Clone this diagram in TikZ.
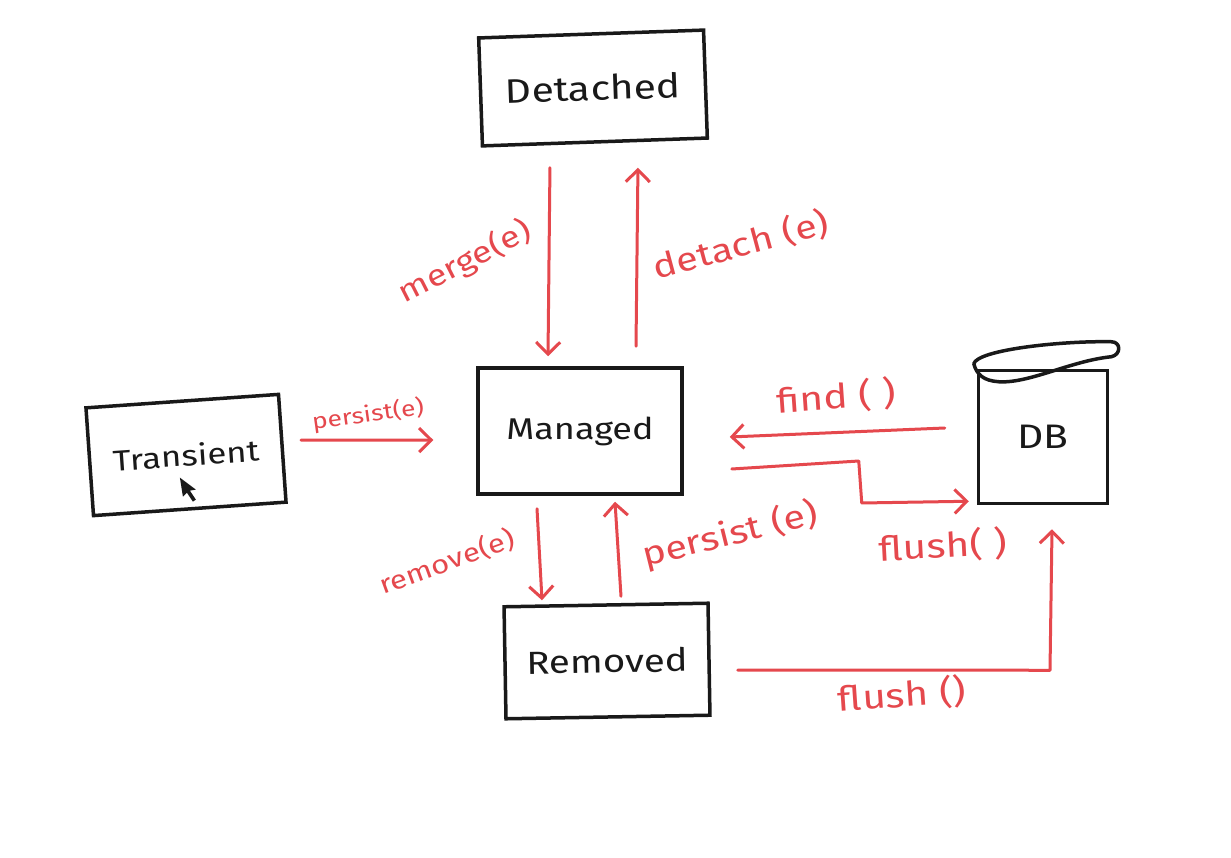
\documentclass[tikz,border=0pt]{standalone}
\usepackage{fontspec}
\setmainfont{Fira Sans}[FakeStretch=1.2]
\usetikzlibrary{arrows.meta,calc}
\definecolor{pen}{RGB}{229,72,77}
\definecolor{ink}{RGB}{25,25,25}
\tikzset{
  state/.style={draw=ink, line width=3.5pt, rectangle, inner sep=0pt, text=ink, font=\fontsize{30}{34}\selectfont},
  flow/.style={draw=pen, line width=3pt, line cap=round, line join=round, -{Straight Barb[length=12pt,width=24pt,line width=3pt]}},
  lbl/.style={text=pen, inner sep=1pt, font=\fontsize{33}{36}\selectfont}
}
\begin{document}
\begin{tikzpicture}[x=1pt,y=-1pt]
\useasboundingbox[fill=white] (0,0) rectangle (1231,858);
% states
\node[state, minimum width=225pt, minimum height=108pt, rotate=2, font=\fontsize{34}{38}\selectfont] (det) at (593,88) {Detached};
\node[state, minimum width=204pt, minimum height=126pt, font=\fontsize{30}{34}\selectfont] (man) at (580,431) {Managed};
\node[state, minimum width=193pt, minimum height=108pt, rotate=4, font=\fontsize{29}{32}\selectfont] (tra) at (186,455) {Transient};
\node[state, minimum width=204pt, minimum height=112pt, rotate=1, font=\fontsize{32}{34}\selectfont] (rem) at (607,661) {Removed};
\node[state, minimum width=129pt, minimum height=133pt, font=\fontsize{34}{38}\selectfont] (db) at (1043,437) {DB};
% DB lid
\draw[ink, line width=3.5pt, line cap=round, line join=round]
  ($(db.north west)+(-3,-5)$) .. controls ($(db.north west)+(1,-19)$) and ($(db.north east)+(-48,-28)$) ..
  ($(db.north east)+(2,-27)$) .. controls ($(db.north east)+(12,-27)$) and ($(db.north east)+(12,-14)$) ..
  ($(db.north east)+(2,-12)$) .. controls ($(db.north east)+(-38,-8)$) and ($(db.north west)+(52,15)$) ..
  ($(db.north west)+(22,13)$) .. controls ($(db.north west)+(7,12)$) and ($(db.north west)+(0,6)$) ..
  ($(db.north west)+(-3,-5)$);
% cursor
\fill[ink] ($(tra.south)+(-10,-33)$) coordinate (cur)
  -- ++(3,19) -- ++(4,-4) -- ++(6,9) -- ++(3,-2) -- ++(-6,-9) -- ++(6,-1) -- cycle;
% connectors
\draw[flow] ($(det.south)+(-45,24)$) -- ($(man.north)+(-32,-10)$);
\draw[flow] ($(man.north)+(56,-20)$) -- ($(det.south)+(43,24)$);
\draw[flow] ($(tra.east)+(17,-8)$) -- ($(man.west)+(-43,9)$);
\draw[flow] ($(db.west)+(-32,-9)$) -- ($(man.east)+(46,6)$);
\draw[flow] ($(man.east)+(48,38)$) -- ($(man.east)+(175,30)$) -- ($(man.east)+(178,72)$) -- ($(db.south west)+(-8,-4)$);
\draw[flow] ($(man.south)+(-43,13)$) -- ($(rem.north)+(-64,-3)$);
\draw[flow] ($(rem.north)+(15,-7)$) -- ($(man.south)+(35,6)$);
\draw[flow] ($(rem.east)+(27,11)$) -- ($(db.south)+(7,165)$) -- ($(db.south)+(9,24)$);
% labels
\node[lbl, rotate=27, font=\fontsize{30}{34}\selectfont] (lmerge) at (465,262) {merge(e)};
\node[lbl, rotate=15] (ldetach) at (741,245) {detach (e)};
\node[lbl, rotate=8, font=\fontsize{22}{26}\selectfont] (lpersist1) at (368,415) {persist(e)};
\node[lbl, rotate=4, font=\fontsize{34}{38}\selectfont] (lfind) at (836,397) {find ( )};
\node[lbl, rotate=3, font=\fontsize{34}{38}\selectfont] (lflush1) at (943,546) {flush( )};
\node[lbl, rotate=20, font=\fontsize{26}{30}\selectfont] (lremove) at (447,562) {remove(e)};
\node[lbl, rotate=14] (lpersist2) at (730,535) {persist (e)};
\node[lbl, rotate=4, font=\fontsize{34}{38}\selectfont] (lflush2) at (902,695) {flush ()};
\end{tikzpicture}
\end{document}
